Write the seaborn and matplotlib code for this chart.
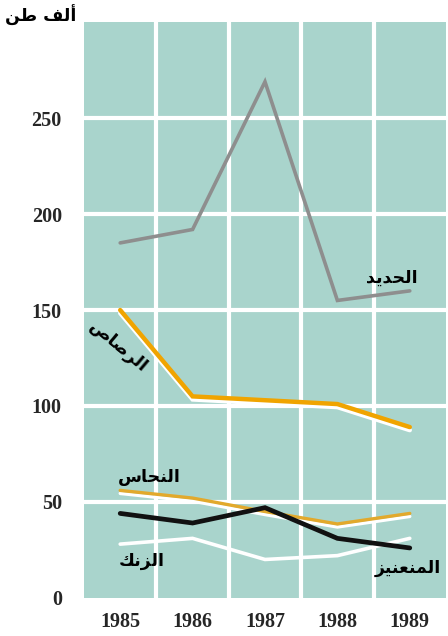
import matplotlib
matplotlib.use("Agg")
import matplotlib.pyplot as plt
import matplotlib.patheffects as pe
from matplotlib.ticker import FixedLocator
import pandas as pd
import seaborn as sns

years = [1985, 1986, 1987, 1988, 1989]
iron = [185, 192, 269, 155, 160]
lead = [150, 105, 103, 101, 89]
copper = [56, 52, 45, 38.5, 44]
manganese = [44, 39, 47, 31, 26]
zinc = [28, 31, 20, 22, 31]

# Arabic labels, written in presentation forms (visual order) so they join
lbl_unit = "\uFEE6\uFEC3 \uFED2\uFEDF\uFE83"          # ألف طن
lbl_iron = "\uFEAA\uFEF3\uFEAA\uFEA4\uFEDF\uFE8D"     # الحديد
lbl_lead = "\uFEB9\uFE8E\uFEBB\uFEAE\uFEDF\uFE8D"     # الرصاص
lbl_copper = "\uFEB1\uFE8E\uFEA4\uFEE8\uFEDF\uFE8D"   # النحاس
lbl_zinc = "\uFEDA\uFEE7\uFEB0\uFEDF\uFE8D"           # الزنك
lbl_mang = "\uFEB0\uFEF4\uFEE8\uFECC\uFEE8\uFEE4\uFEDF\uFE8D"  # المنغنيز

df = pd.DataFrame({"year": years, "iron": iron, "lead": lead, "copper": copper,
                   "manganese": manganese, "zinc": zinc})

sns.set_style("white")
plt.rcParams["font.family"] = ["Liberation Serif", "DejaVu Sans"]

bg = "#a9d4cc"
fig = plt.figure(figsize=(4.48, 6.36), dpi=100)
ax = fig.add_axes([0.1875, 0.06, 0.808, 0.905])
ax.set_facecolor(bg)

shadow = [pe.SimpleLineShadow(offset=(0, -2.2), shadow_color="white", alpha=1.0), pe.Normal()]

styles = [
    ("iron", "#8e8e8e", 2.6, None),
    ("zinc", "white", 2.6, None),
    ("copper", "#e2a92c", 2.4, shadow),
    ("lead", "#f0a400", 3.2, shadow),
    ("manganese", "#111111", 3.4, None),
]
for col, color, lw, eff in styles:
    sns.lineplot(data=df, x="year", y=col, color=color, linewidth=lw, ax=ax,
                 path_effects=eff, solid_joinstyle="miter")

ax.set_xlim(1984.5, 1989.5)
ax.set_ylim(0, 300)
ax.set_xticks(years)
ax.set_yticks([0, 50, 100, 150, 200, 250])
ax.xaxis.set_minor_locator(FixedLocator([1985.5, 1986.5, 1987.5, 1988.5]))
ax.yaxis.set_minor_locator(FixedLocator([50, 100, 150, 200, 250]))
ax.yaxis.remove_overlapping_locs = False
ax.grid(which="minor", color="white", linewidth=3.0)
ax.grid(which="major", visible=False)
ax.set_axisbelow(True)
for s in ax.spines.values():
    s.set_visible(False)
ax.tick_params(which="both", length=0)
ax.tick_params(axis="x", pad=10)
ax.tick_params(axis="y", pad=16)
for t in ax.get_xticklabels() + ax.get_yticklabels():
    t.set_fontsize(14.5)
    t.set_fontweight("bold")
ax.set_xlabel("")
ax.set_ylabel("")

afont = dict(family=["DejaVu Sans"], fontweight="bold", fontsize=12.5, color="black")
fig.text(0.012, 0.975, lbl_unit, ha="left", va="center", **afont)
ax.text(1988.75, 167, lbl_iron, ha="center", va="center", **afont)
ax.text(1984.98, 131, lbl_lead, ha="center", va="center", rotation=-40, **afont)
ax.text(1985.4, 63, lbl_copper, ha="center", va="center", **afont)
ax.text(1985.3, 19, lbl_zinc, ha="center", va="center", **afont)
ax.text(1988.98, 15.5, lbl_mang, ha="center", va="center", **afont)

fig.savefig("out.png", dpi=100, facecolor="white")
